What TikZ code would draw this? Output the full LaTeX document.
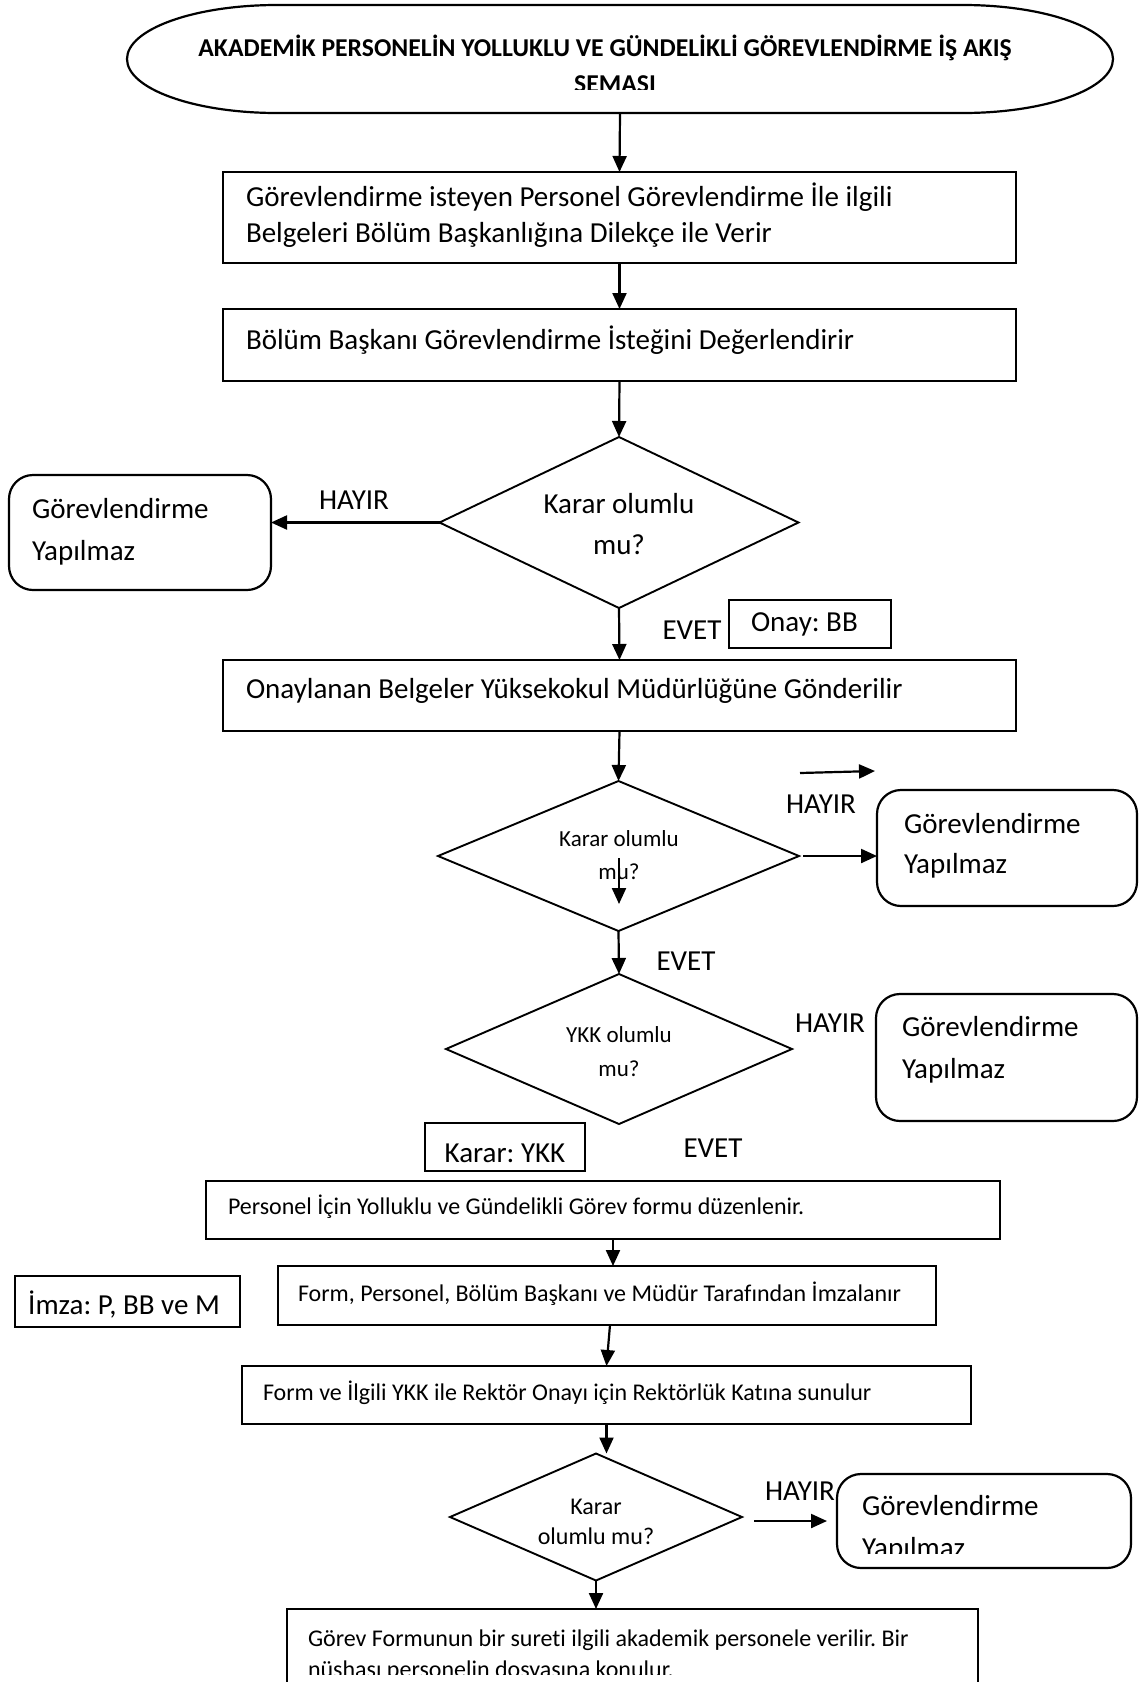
\documentclass[tikz,border=0pt]{standalone}
\usepackage{fontspec}
\setmainfont{Carlito}[Ligatures=NoCommon]
\usetikzlibrary{arrows.meta,shapes.geometric}
\frenchspacing
\begin{document}
\begin{tikzpicture}[x=1pt,y=-1pt,
  box/.style={draw, line width=2.2pt, rectangle, inner sep=0pt, outer sep=0pt},
  rbox/.style={box, rounded corners=24pt},
  dia/.style={draw, line width=1.9pt, diamond, inner sep=0pt, outer sep=0pt},
  arr/.style={line width=2.2pt, -{Triangle[length=16pt,width=14pt]}},
  big/.style={inner sep=0pt, outer sep=0pt, font=\fontsize{29}{35}\selectfont},
  mid/.style={inner sep=0pt, outer sep=0pt, font=\fontsize{24}{29}\selectfont},
  sml/.style={inner sep=0pt, outer sep=0pt, font=\fontsize{23}{28}\selectfont},
  ttl/.style={inner sep=0pt, outer sep=0pt, font=\fontsize{25.7}{30}\selectfont\bfseries},
]
\useasboundingbox (0,0) rectangle (1139,1682);
\clip (0,0) rectangle (1139,1682);

% title: a long oval with flat top and bottom and elliptic ends
\node[inner sep=0pt, outer sep=0pt, minimum width=986pt, minimum height=108pt] (title) at (620,59) {};
\draw[line width=2.2pt] (title.west)
  arc[start angle=180, end angle=270, x radius=150, y radius=54]
  -- ([xshift=-150pt]title.north east)
  arc[start angle=270, end angle=450, x radius=150, y radius=54]
  -- ([xshift=150pt]title.south west)
  arc[start angle=90, end angle=180, x radius=150, y radius=54]
  -- cycle;
\node[ttl, anchor=base] (tl1) at (605,56) {AKADEMİK PERSONELİN YOLLUKLU VE GÜNDELİKLİ GÖREVLENDİRME İŞ AKIŞ};
\begin{scope}
  \clip (400,60) rectangle (800,89);
  \node[ttl, anchor=base] (tl2) at (615,92) {ŞEMASI};
\end{scope}

% step boxes
\node[box, minimum width=793pt, minimum height=91pt] (b1) at (619.5,217.5) {};
\node[big, anchor=base west] (b1a) at (246,206) {Görevlendirme isteyen Personel Görevlendirme İle ilgili};
\node[big, anchor=base west] (b1b) at (246,242) {Belgeleri Bölüm Başkanlığına Dilekçe ile Verir};

\node[box, minimum width=793pt, minimum height=72pt] (b2) at (619.5,345) {};
\node[big, anchor=base west] (b2a) at (246,349) {Bölüm Başkanı Görevlendirme İsteğini Değerlendirir};

% first decision
\node[dia, minimum width=359pt, minimum height=171pt] (d1) at (619,522.5) {};
\node[big, anchor=base] (d1a) at (619,513) {Karar olumlu};
\node[big, anchor=base] (d1b) at (619,554) {mu?};
\node[rbox, minimum width=262pt, minimum height=115pt] (r1) at (140,532.5) {};
\node[big, anchor=base west] (r1a) at (32,518) {Görevlendirme};
\node[big, anchor=base west] (r1b) at (32,560) {Yapılmaz};
\node[big, anchor=base] (h1) at (354,509) {HAYIR};
\node[big, anchor=base] (e1) at (692,639) {EVET};
\node[box, minimum width=162pt, minimum height=48pt] (onay) at (810,624) {};
\node[big, anchor=base west] (onayt) at (751,631) {Onay: BB};

\node[box, minimum width=793pt, minimum height=71pt] (b3) at (619.5,695.5) {};
\node[big, anchor=base west] (b3a) at (246,698) {Onaylanan Belgeler Yüksekokul Müdürlüğüne Gönderilir};

% second decision
\node[dia, minimum width=361pt, minimum height=150pt] (d2) at (618.5,856) {};
\node[sml, anchor=base] (d2a) at (619,846) {Karar olumlu};
\node[sml, anchor=base] (d2b) at (619,879) {mu?};
\coordinate (d2in) at (619,858);
\coordinate (d2out) at (619,904);
\coordinate (s1) at (800,773);
\coordinate (s2) at (875,771);
\node[big, anchor=base] (h2) at (821,813) {HAYIR};
\node[rbox, minimum width=260pt, minimum height=116pt] (r2) at (1007,848) {};
\node[big, anchor=base west] (r2a) at (904,833) {Görevlendirme};
\node[big, anchor=base west] (r2b) at (904,873) {Yapılmaz};
\node[big, anchor=base] (e2) at (686,970) {EVET};

% third decision
\node[dia, minimum width=346pt, minimum height=150pt] (d3) at (619,1049) {};
\node[sml, anchor=base] (d3a) at (619,1042) {YKK olumlu};
\node[sml, anchor=base] (d3b) at (619,1076) {mu?};
\node[big, anchor=base] (h3) at (830,1032) {HAYIR};
\node[rbox, minimum width=261pt, minimum height=127pt] (r3) at (1006.5,1057.5) {};
\node[big, anchor=base west] (r3a) at (902,1036) {Görevlendirme};
\node[big, anchor=base west] (r3b) at (902,1078) {Yapılmaz};
\node[big, anchor=base] (e3) at (713,1157) {EVET};
\node[box, minimum width=160pt, minimum height=48pt] (ykk) at (505,1147) {};
\node[big, anchor=base] (ykkt) at (505,1162) {Karar: YKK};

% form steps
\node[box, minimum width=794pt, minimum height=58pt] (b4) at (603,1210) {};
\node[mid, anchor=base west] (b4a) at (228,1214) {Personel İçin Yolluklu ve Gündelikli Görev formu düzenlenir.};
\node[box, minimum width=658pt, minimum height=59pt] (b5) at (607,1295.5) {};
\node[mid, anchor=base west] (b5a) at (298,1301) {Form, Personel, Bölüm Başkanı ve Müdür Tarafından İmzalanır};
\node[box, minimum width=225pt, minimum height=51pt] (imza) at (127.5,1301.5) {};
\node[big, anchor=base] (imzat) at (124,1314) {İmza: P, BB ve M};
\node[box, minimum width=729pt, minimum height=58pt] (b6) at (606.5,1395) {};
\node[mid, anchor=base west] (b6a) at (263,1400) {Form ve İlgili YKK ile Rektör Onayı için Rektörlük Katına sunulur};

% last decision
\node[dia, minimum width=292pt, minimum height=127pt] (d4) at (596,1517) {};
\node[mid, anchor=base] (d4a) at (596,1514) {Karar};
\node[mid, anchor=base] (d4b) at (596,1544) {olumlu mu?};
\node[big, anchor=base] (h4) at (800,1500) {HAYIR};
\node[rbox, minimum width=294pt, minimum height=94pt] (r4) at (984,1521) {};
\node[big, anchor=base west] (r4a) at (862,1515) {Görevlendirme};
\begin{scope}
  \clip (840,1520) rectangle (1120,1553);
  \node[big, anchor=base west] (r4b) at (862,1557) {Yapılmaz};
\end{scope}

\node[box, minimum width=691pt, minimum height=91pt] (b7) at (632.5,1654.5) {};
\node[mid, anchor=base west] (b7a) at (308,1646) {Görev Formunun bir sureti ilgili akademik personele verilir. Bir};
\begin{scope}
  \clip (290,1650) rectangle (975,1674);
  \node[mid, anchor=base west] (b7b) at (308,1677) {nüshası personelin dosyasına konulur.};
\end{scope}

% connectors
\draw[arr] (title.south) -- (b1.north);
\draw[arr] (b1.south) -- (b2.north);
\draw[arr] (b2.south) -- (d1.north);
\draw[arr] (d1.west) -- (d1.west -| r1.east);
\draw[arr] (d1.south) -- (b3.north);
\draw[arr] (b3.south) -- (d2.north);
\draw[arr] (d2in) -- (d2out);
\draw[arr] (s1) -- (s2);
\draw[arr] ([xshift=4pt]d2.east) -- (d2.east -| r2.west);
\draw[arr] (d2.south) -- (d3.north);
\draw[arr] ([xshift=10pt]b4.south) -- ([xshift=10pt]b4.south |- b5.north);
\draw[arr] ([xshift=3pt]b5.south) -- (b6.north);
\draw[arr] (b6.south) -- (b6.south |- d4.north);
\draw[arr] ([xshift=12pt]d4.east |- r4.west) -- ([xshift=-10pt]r4.west);
\draw[arr] (d4.south) -- (d4.south |- b7.north);
\end{tikzpicture}
\end{document}
